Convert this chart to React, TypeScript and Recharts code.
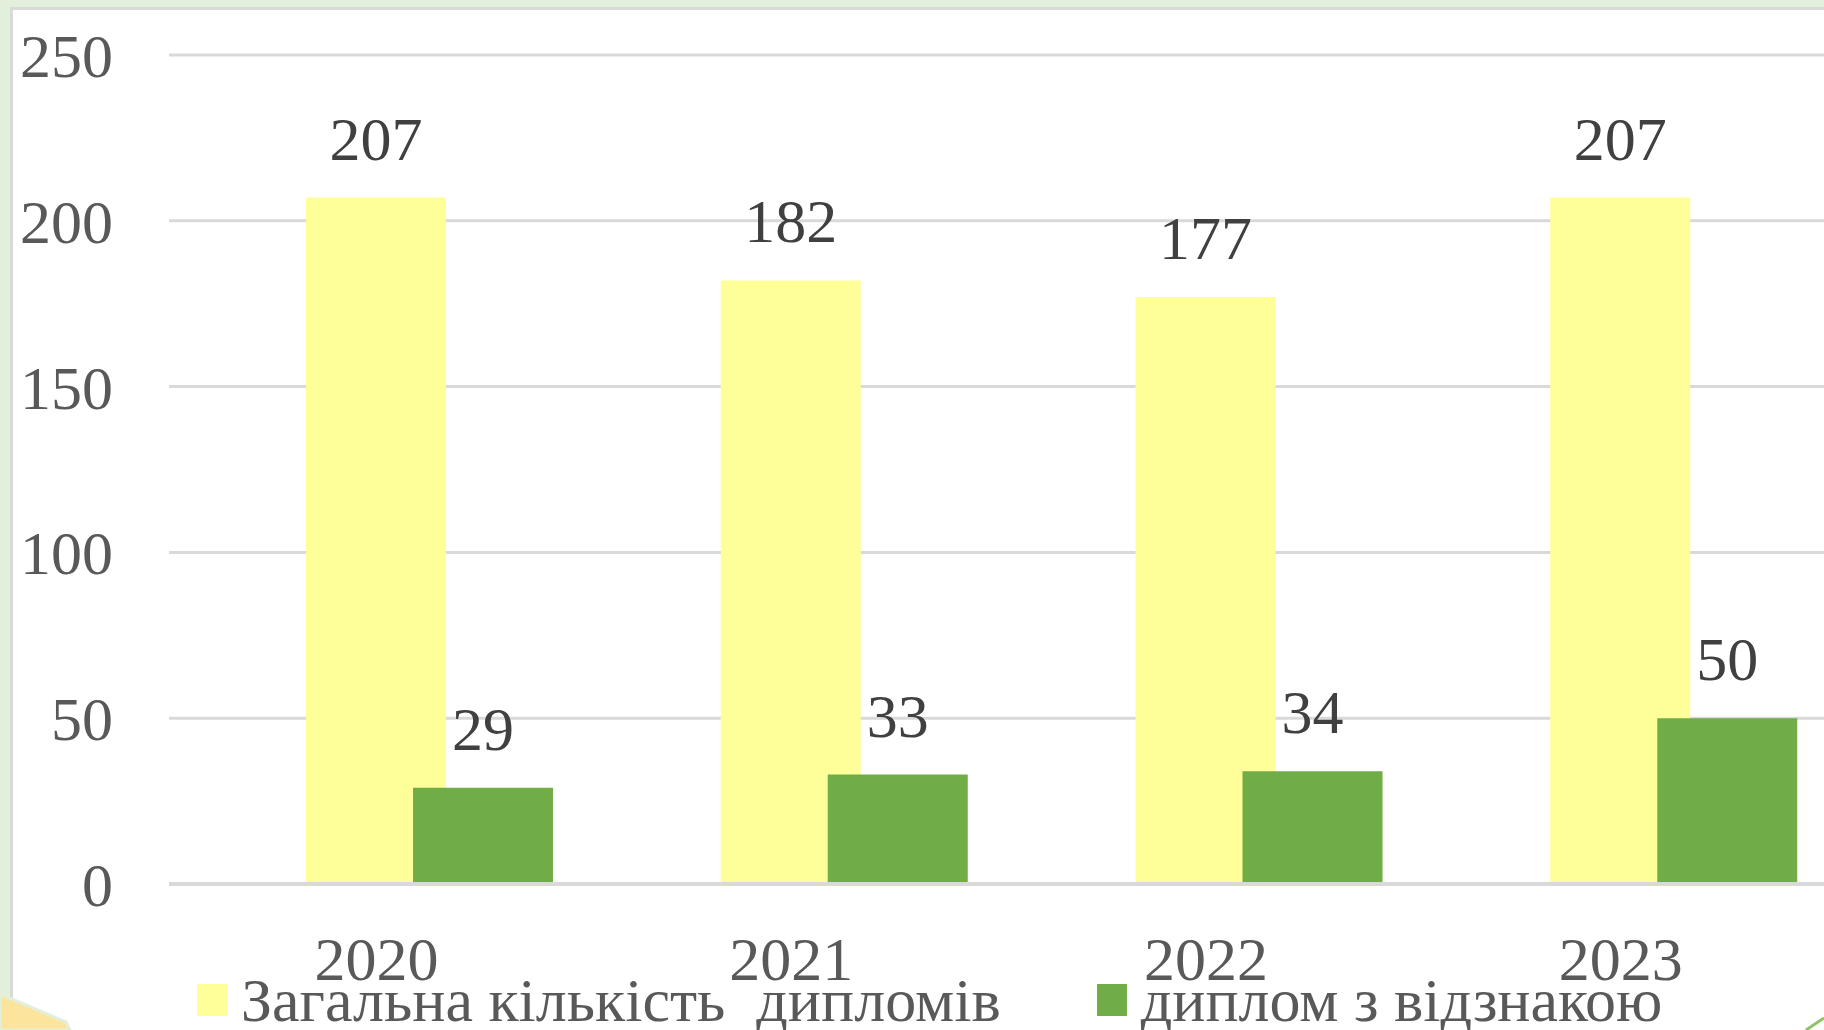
import React from 'react';
import { BarChart, Bar, XAxis, YAxis, CartesianGrid, LabelList } from 'recharts';

const years = ['2020', '2021', '2022', '2023'];
const totalDiplomas = [207, 182, 177, 207];
const honoursDiplomas = [29, 33, 34, 50];
const yTicks = [0, 50, 100, 150, 200, 250];
const seriesNames = ['Загальна кількість  дипломів', 'диплом з відзнакою'];
const seriesColors = ['#ffff99', '#70ad47'];

const data = years.map((year, i) => ({
  year,
  total: totalDiplomas[i],
  honours: honoursDiplomas[i],
}));

const FONT = '"Liberation Serif", "Times New Roman", serif';

// year labels sit under the yellow bar, not in the middle of the group
const YearTick = (props: any) => {
  const { x, y, payload } = props;
  return (
    <text x={x - 53} y={y + 94} textAnchor="middle" fill="#595959" fontSize={62} fontFamily={FONT}>
      {payload.value}
    </text>
  );
};

export default function App() {
  return (
    <div style={{ position: 'fixed', left: 0, top: 0, width: 1824, height: 1030, overflow: 'hidden', background: '#e2efda' }}>
      <div style={{ position: 'absolute', left: 10, top: 7, width: 1900, height: 1100, background: '#fff', borderLeft: '3px solid #d9d9d9', borderTop: '3px solid #d9d9d9' }} />

      <div style={{ position: 'absolute', left: 0, top: 0 }}>
        <BarChart width={1960} height={1030} data={data} margin={{ top: 55, right: 26, bottom: 0, left: 0 }} barGap={-33}>
          <CartesianGrid vertical={false} stroke="#d9d9d9" strokeWidth={3} />
          <XAxis
            dataKey="year"
            height={146}
            padding={{ left: 53, right: 53 }}
            axisLine={{ stroke: '#d9d9d9', strokeWidth: 4 }}
            tickLine={false}
            tickSize={0}
            tick={<YearTick />}
          />
          <YAxis
            width={169}
            domain={[0, 250]}
            ticks={yTicks}
            axisLine={false}
            tickLine={false}
            tickSize={0}
            tickMargin={56}
            tick={{ fill: '#595959', fontSize: 62, fontFamily: FONT }}
          />
          <Bar dataKey="total" name={seriesNames[0]} fill={seriesColors[0]} barSize={140} isAnimationActive={false}>
            <LabelList dataKey="total" position="top" offset={38} fill="#404040" fontSize={62} fontFamily={FONT} />
          </Bar>
          <Bar dataKey="honours" name={seriesNames[1]} fill={seriesColors[1]} barSize={140} isAnimationActive={false}>
            <LabelList dataKey="honours" position="top" offset={38} fill="#404040" fontSize={62} fontFamily={FONT} />
          </Bar>
        </BarChart>
      </div>

      {/* legend */}
      <div style={{ position: 'absolute', left: 197, top: 968, display: 'flex', alignItems: 'center', fontFamily: FONT, fontSize: 62, color: '#595959', whiteSpace: 'pre', lineHeight: '64px' }}>
        {seriesNames.map((name, i) => (
          <div key={name} style={{ display: 'flex', alignItems: 'center', marginRight: i === 0 ? 96 : 0 }}>
            <span style={{ width: 30, height: 32, background: seriesColors[i], marginRight: 14, display: 'inline-block' }} />
            <span>{name}</span>
          </div>
        ))}
      </div>

      {/* corner decorations of the slide */}
      <svg width={1824} height={1030} style={{ position: 'absolute', left: 0, top: 0, pointerEvents: 'none' }}>
        <polygon points="0,994 66,1022 70,1030 0,1030" fill="#fde49c" stroke="#e2efda" strokeWidth={3} />
        <line x1={1806} y1={1030} x2={1824} y2={1018} stroke="#8fc36a" strokeWidth={3} />
      </svg>
    </div>
  );
}
